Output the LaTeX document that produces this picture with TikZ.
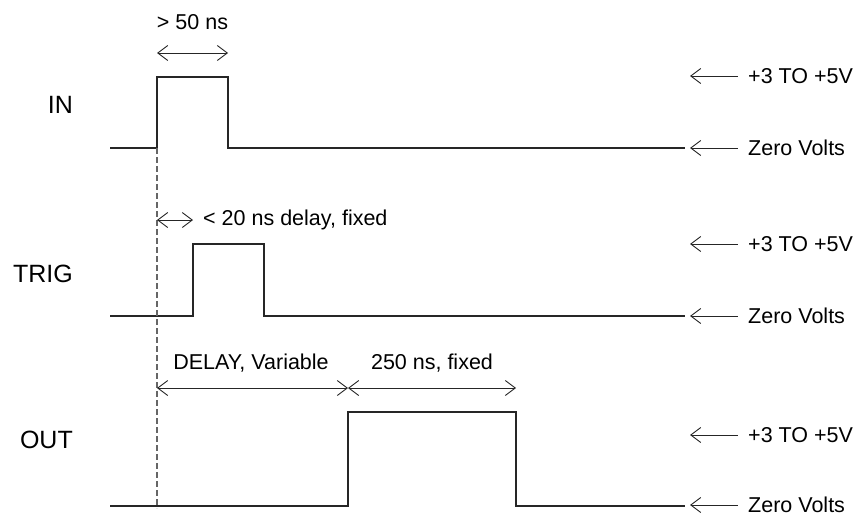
\documentclass[tikz,border=0pt]{standalone}
\usepackage{fontspec}
\setmainfont{Liberation Sans}
\usetikzlibrary{arrows.meta}
\begin{document}
\begin{tikzpicture}[x=1pt,y=-1pt,
  sig/.style={line width=1.2pt,draw=black!85},
  dim/.style={line width=0.9pt,draw=black!85,{Straight Barb[length=10pt,width=15pt]}-{Straight Barb[length=10pt,width=15pt]}},
  lvl/.style={line width=0.9pt,draw=black!85,{Straight Barb[length=10pt,width=15pt]}-},
  lab/.style={font=\fontsize{25}{28}\selectfont,anchor=east,inner sep=0},
  ann/.style={font=\fontsize{21.5}{24}\selectfont,anchor=west,inner sep=0},
  annc/.style={font=\fontsize{21.5}{24}\selectfont,inner sep=0}]
\useasboundingbox (0,0) rectangle (855,514);
% labels
\node[lab] (in) at (73,105) {IN};
\node[lab] (trig) at (73,274) {TRIG};
\node[lab] (out) at (73,440) {OUT};
% signals
\draw[sig] (110,148) -- (157,148) -- (157,77) -- (228,77) -- (228,148) -- (685,148);
\draw[sig] (110,316) -- (193,316) -- (193,244) -- (264,244) -- (264,316) -- (685,316);
\draw[sig] (110,506) -- (348,506) -- (348,412) -- (516,412) -- (516,506) -- (685,506);
% dashed reference
\draw[line width=1.2pt,draw=black!60,dash pattern=on 6pt off 3pt] (157,148) -- (157,508);
% dimension arrows
\coordinate (a1) at (157,53); \coordinate (a2) at (228,53);
\draw[dim] (a1) -- (a2);
\node[annc] (t50) at (192.5,22) {> 50 ns};
\coordinate (b1) at (157,220); \coordinate (b2) at (193,220);
\draw[dim] (b1) -- (b2);
\node[ann] (t20) at (203,220) {< 20 ns delay, fixed};
\coordinate (c1) at (157,388); \coordinate (c2) at (348,388); \coordinate (c3) at (516,388);
\draw[dim] (c1) -- (c2);
\draw[dim] (c2) -- (c3);
\node[annc] (tdel) at (251,363) {DELAY, Variable};
\node[annc] (t250) at (432,363) {250 ns, fixed};
% level arrows
\foreach \n/\yh/\yl in {1/76/148, 2/244/316, 3/435/505}{
  \node[ann] (hi\n) at (748,\yh) {+3 TO +5V};
  \node[ann] (lo\n) at (748,\yl) {Zero Volts};
  \draw[lvl] (690,\yh) -- (738,\yh);
  \draw[lvl] (690,\yl) -- (738,\yl);
}
\end{tikzpicture}
\end{document}
